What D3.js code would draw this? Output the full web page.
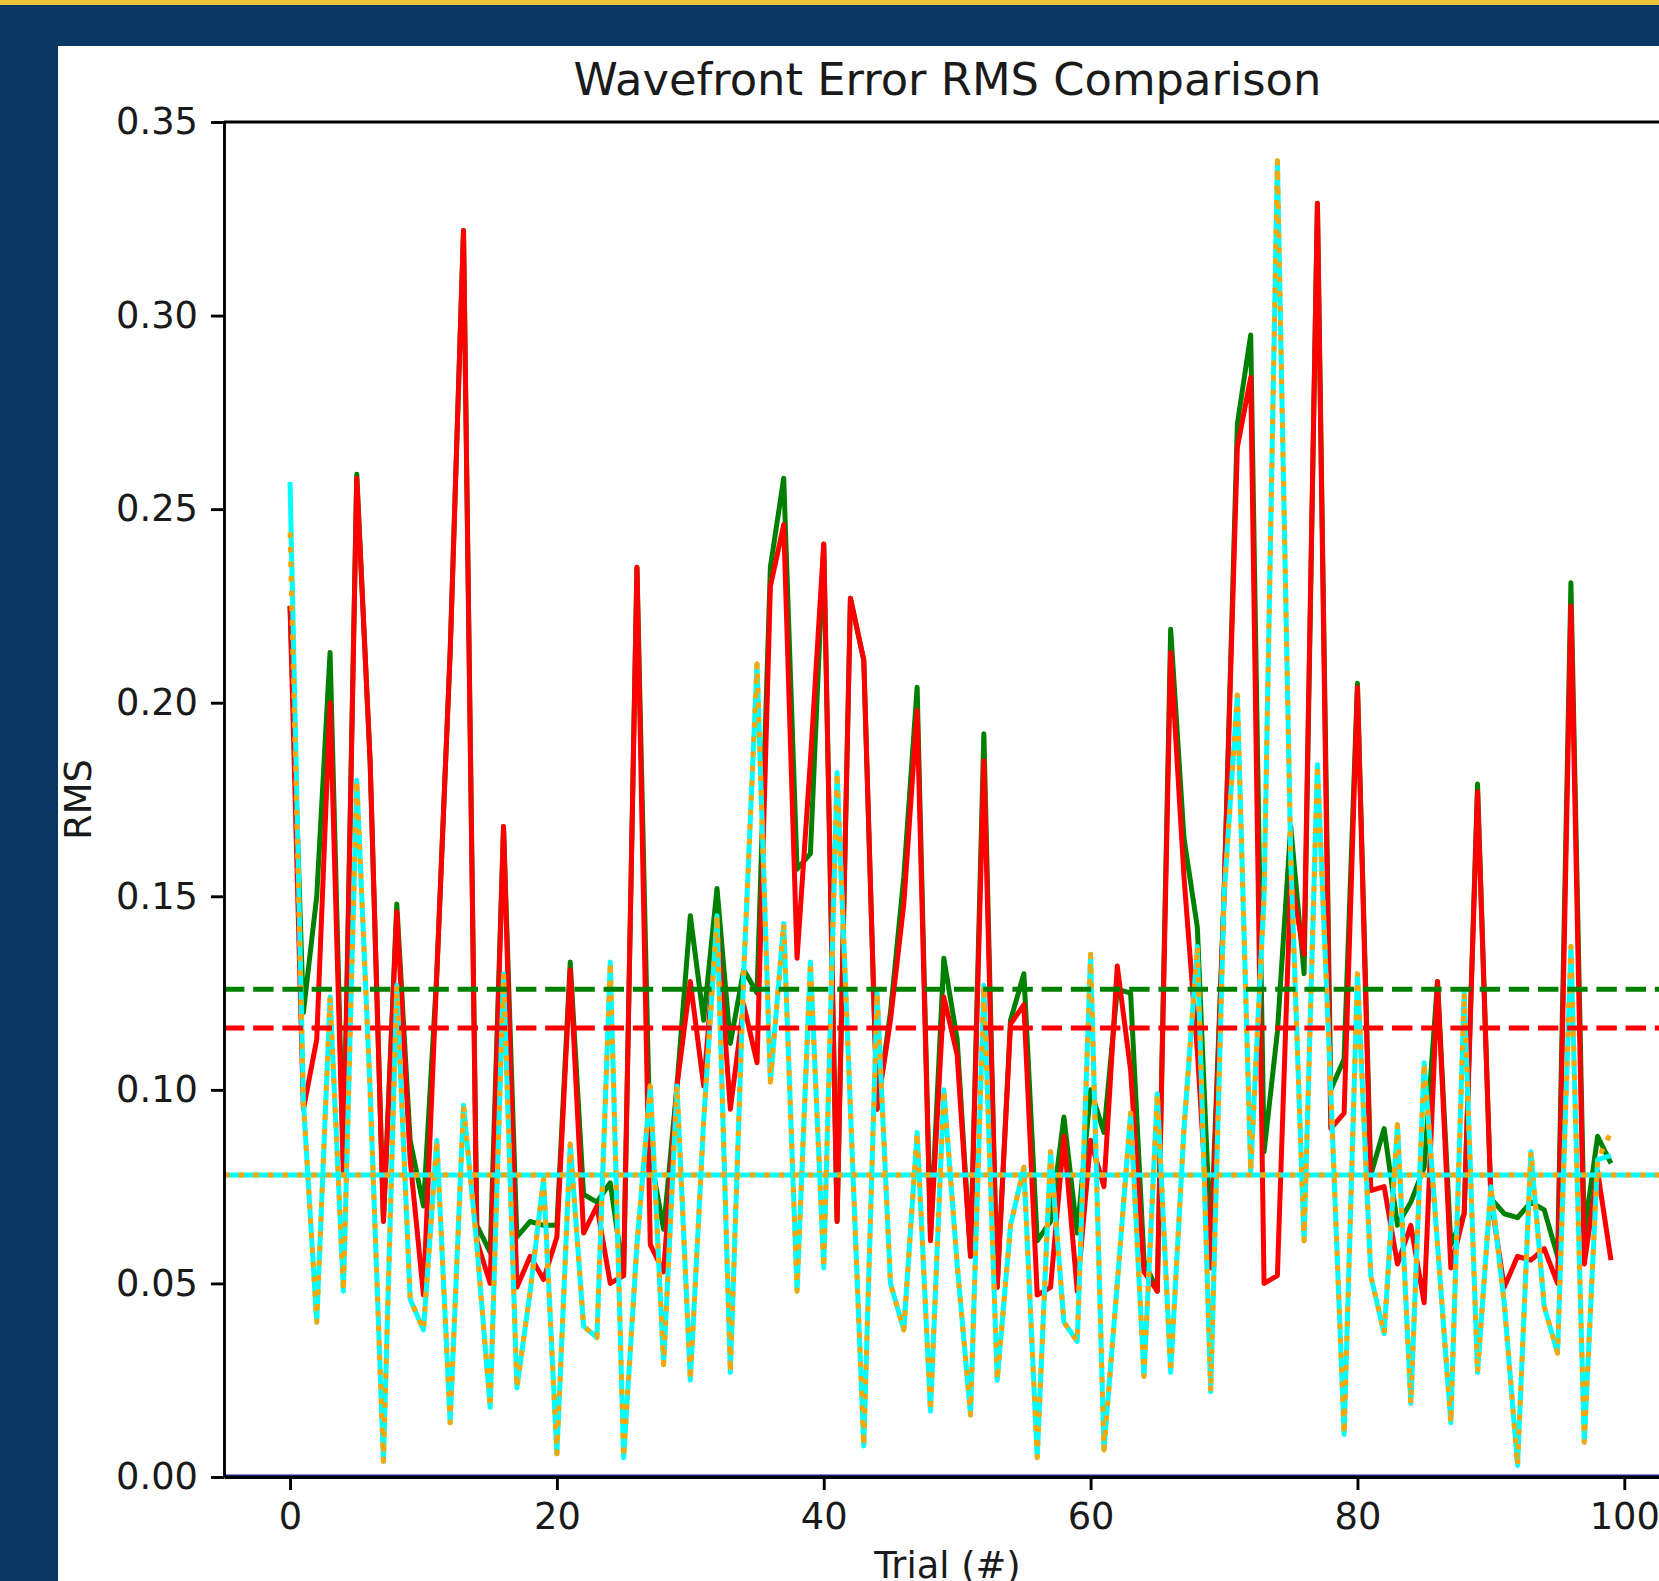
<!DOCTYPE html>
<html>
<head>
<meta charset="utf-8">
<script src="https://cdn.jsdelivr.net/npm/d3@7/dist/d3.min.js"></script>
<style>
html, body { margin: 0; padding: 0; background: #0a3663; }
svg { display: block; }
text { font-family: "DejaVu Sans", sans-serif; }
</style>
</head>
<body>
<svg></svg>
<script>
var WIDTH = 1659;
var HEIGHT = 1581;

// values, one per trial (0..99)
var rmsGreen = [
    0.225, 0.120, 0.150, 0.213, 0.080, 0.259, 0.185, 0.066, 0.148, 0.087,
    0.070, 0.130, 0.213, 0.322, 0.065, 0.058, 0.168, 0.062, 0.066, 0.065,
    0.065, 0.133, 0.073, 0.071, 0.076, 0.052, 0.235, 0.083, 0.064, 0.101,
    0.145, 0.118, 0.152, 0.112, 0.131, 0.125, 0.235, 0.258, 0.157, 0.161,
    0.241, 0.066, 0.227, 0.211, 0.095, 0.120, 0.155, 0.204, 0.062, 0.134,
    0.113, 0.057, 0.192, 0.049, 0.118, 0.130, 0.061, 0.066, 0.093, 0.063,
    0.100, 0.089, 0.126, 0.125, 0.056, 0.048, 0.219, 0.165, 0.142, 0.060,
    0.150, 0.272, 0.295, 0.084, 0.115, 0.168, 0.130, 0.329, 0.100, 0.108,
    0.205, 0.078, 0.090, 0.065, 0.071, 0.080, 0.128, 0.060, 0.068, 0.179,
    0.072, 0.068, 0.067, 0.071, 0.069, 0.057, 0.231, 0.063, 0.088, 0.081
];
var rmsRed = [
    0.225, 0.095, 0.113, 0.200, 0.078, 0.258, 0.185, 0.066, 0.146, 0.082,
    0.047, 0.130, 0.213, 0.322, 0.061, 0.050, 0.168, 0.049, 0.057, 0.051,
    0.062, 0.131, 0.063, 0.070, 0.050, 0.052, 0.235, 0.060, 0.053, 0.101,
    0.128, 0.101, 0.143, 0.095, 0.122, 0.107, 0.230, 0.246, 0.134, 0.185,
    0.241, 0.066, 0.227, 0.211, 0.095, 0.118, 0.148, 0.198, 0.061, 0.124,
    0.109, 0.057, 0.185, 0.049, 0.117, 0.122, 0.047, 0.049, 0.088, 0.048,
    0.087, 0.075, 0.132, 0.105, 0.053, 0.048, 0.213, 0.155, 0.110, 0.054,
    0.150, 0.266, 0.284, 0.050, 0.052, 0.155, 0.135, 0.329, 0.090, 0.094,
    0.204, 0.074, 0.075, 0.055, 0.065, 0.045, 0.128, 0.054, 0.068, 0.177,
    0.072, 0.049, 0.057, 0.056, 0.059, 0.050, 0.225, 0.055, 0.079, 0.056
];
var rmsCyan = [
    0.257, 0.097, 0.040, 0.124, 0.048, 0.180, 0.100, 0.004, 0.127, 0.046,
    0.038, 0.087, 0.014, 0.096, 0.060, 0.018, 0.130, 0.023, 0.048, 0.077,
    0.006, 0.086, 0.039, 0.036, 0.133, 0.005, 0.060, 0.101, 0.029, 0.101,
    0.025, 0.092, 0.145, 0.027, 0.130, 0.210, 0.102, 0.143, 0.048, 0.133,
    0.054, 0.182, 0.095, 0.008, 0.125, 0.050, 0.038, 0.089, 0.017, 0.100,
    0.055, 0.016, 0.127, 0.025, 0.065, 0.080, 0.005, 0.084, 0.040, 0.035,
    0.135, 0.007, 0.050, 0.094, 0.026, 0.099, 0.027, 0.090, 0.137, 0.022,
    0.150, 0.202, 0.079, 0.150, 0.340, 0.160, 0.061, 0.184, 0.100, 0.011,
    0.130, 0.052, 0.037, 0.091, 0.019, 0.107, 0.060, 0.014, 0.125, 0.027,
    0.075, 0.045, 0.003, 0.084, 0.044, 0.032, 0.137, 0.009, 0.082, 0.083
];
var rmsOrange = [
    0.244, 0.097, 0.040, 0.124, 0.048, 0.180, 0.100, 0.004, 0.127, 0.046,
    0.038, 0.087, 0.014, 0.096, 0.060, 0.018, 0.130, 0.023, 0.048, 0.077,
    0.006, 0.086, 0.039, 0.036, 0.133, 0.005, 0.060, 0.101, 0.029, 0.101,
    0.025, 0.092, 0.145, 0.027, 0.130, 0.210, 0.102, 0.143, 0.048, 0.133,
    0.054, 0.182, 0.095, 0.008, 0.125, 0.050, 0.038, 0.089, 0.017, 0.100,
    0.055, 0.016, 0.127, 0.025, 0.065, 0.080, 0.005, 0.084, 0.040, 0.035,
    0.135, 0.007, 0.050, 0.094, 0.026, 0.099, 0.027, 0.090, 0.137, 0.022,
    0.150, 0.202, 0.079, 0.150, 0.340, 0.160, 0.061, 0.184, 0.100, 0.011,
    0.130, 0.052, 0.037, 0.091, 0.019, 0.107, 0.060, 0.014, 0.125, 0.027,
    0.075, 0.045, 0.003, 0.084, 0.044, 0.032, 0.137, 0.009, 0.082, 0.089
];
var rmsZero = [0, 0];

// horizontal reference levels (means) as drawn in the picture
var meanGreen = 0.126;
var meanRed = 0.116;
var meanCyan = 0.078;

var yTicks = [0, 0.05, 0.10, 0.15, 0.20, 0.25, 0.30, 0.35];
var xTicks = [0, 20, 40, 60, 80, 100];

var LEFT = 224, RIGHT = 1677, TOP = 122, BOTTOM = 1477;
var FONT = 36.8;

var svg = d3.select('svg')
    .attr('width', WIDTH)
    .attr('height', HEIGHT);

// page frame: navy background, gold strip, white figure
svg.append('rect').attr('width', WIDTH).attr('height', HEIGHT).attr('fill', '#0a3663');
svg.append('rect').attr('width', WIDTH).attr('height', 5).attr('fill', '#f0c33c');
svg.append('rect').attr('x', 58).attr('y', 46)
    .attr('width', WIDTH - 58).attr('height', HEIGHT - 46)
    .attr('fill', '#ffffff');

var xScale = d3.scaleLinear().domain([-4.95, 103.95]).range([LEFT, RIGHT]);
var yScale = d3.scaleLinear().domain([0, 0.35]).range([BOTTOM, TOP]);

svg.append('clipPath').attr('id', 'plot-clip')
    .append('rect')
    .attr('x', LEFT).attr('y', TOP)
    .attr('width', RIGHT - LEFT).attr('height', BOTTOM - TOP);

var plot = svg.append('g').attr('clip-path', 'url(#plot-clip)');

var line = d3.line()
    .x(function(d, i){ return xScale(i); })
    .y(function(d){ return yScale(d); });

function drawSeries(values, color, dash){
    plot.append('path')
        .datum(values)
        .attr('d', line)
        .attr('fill', 'none')
        .attr('stroke', color)
        .attr('stroke-width', 5)
        .attr('stroke-linejoin', 'round')
        .attr('stroke-dasharray', dash || null);
}

function drawLevel(value, color, dash){
    plot.append('line')
        .attr('x1', xScale.range()[0]).attr('x2', xScale.range()[1])
        .attr('y1', yScale(value)).attr('y2', yScale(value))
        .attr('stroke', color)
        .attr('stroke-width', 5)
        .attr('stroke-dasharray', dash || null);
}

drawSeries(rmsGreen, '#008000');
drawSeries(rmsRed, '#ff0000');
drawSeries(rmsCyan, '#00ffff');
drawSeries(rmsOrange, '#ffa500', '5.5,9.1');

drawLevel(meanGreen, '#008000', '20.4,8.8');
drawLevel(meanRed, '#ff0000', '20.4,8.8');
drawLevel(meanCyan, '#00ffff');
drawLevel(meanCyan, '#ffa500', '5.5,9.1');

// zero baseline series
plot.append('line')
    .attr('x1', xScale.range()[0]).attr('x2', xScale.range()[1])
    .attr('y1', yScale(rmsZero[0])).attr('y2', yScale(rmsZero[1]))
    .attr('stroke', '#1b1b7a')
    .attr('stroke-width', 5);

// axes
var leftAxis = d3.axisLeft(yScale)
    .tickValues(yTicks)
    .tickFormat(d3.format('.2f'))
    .tickSize(13)
    .tickSizeOuter(0)
    .tickPadding(13);
var bottomAxis = d3.axisBottom(xScale)
    .tickValues(xTicks)
    .tickFormat(d3.format('d'))
    .tickSize(13)
    .tickSizeOuter(0)
    .tickPadding(13);

var gLeft = svg.append('g').attr('id', 'left-axis')
    .attr('transform', 'translate(' + LEFT + ',0)')
    .call(leftAxis);
var gBottom = svg.append('g').attr('id', 'bottom-axis')
    .attr('transform', 'translate(0,' + BOTTOM + ')')
    .call(bottomAxis);

[gLeft, gBottom].forEach(function(g){
    g.selectAll('path, line').attr('stroke', '#000').attr('stroke-width', 2.9);
    g.selectAll('text')
        .attr('fill', '#1a1a1a')
        .style('font-size', FONT + 'px')
        .style('font-family', '"DejaVu Sans", sans-serif');
});

// top and right spines
svg.append('line')
    .attr('x1', LEFT).attr('x2', RIGHT)
    .attr('y1', TOP).attr('y2', TOP)
    .attr('stroke', '#000').attr('stroke-width', 2.9);
svg.append('line')
    .attr('x1', RIGHT).attr('x2', RIGHT)
    .attr('y1', TOP).attr('y2', BOTTOM)
    .attr('stroke', '#000').attr('stroke-width', 2.9);

// labels
svg.append('text')
    .attr('x', (LEFT + RIGHT) / 2 - 3)
    .attr('y', 95)
    .attr('text-anchor', 'middle')
    .attr('fill', '#1a1a1a')
    .style('font-size', '44.8px')
    .text('Wavefront Error RMS Comparison');

// the figure is cropped at the bottom, so this label sits on the edge as in the source
svg.append('text')
    .attr('x', (LEFT + RIGHT) / 2 - 3)
    .attr('y', 1578)
    .attr('text-anchor', 'middle')
    .attr('fill', '#1a1a1a')
    .style('font-size', FONT + 'px')
    .text('Trial (#)');

svg.append('text')
    .attr('transform', 'translate(91,' + ((TOP + BOTTOM) / 2) + ') rotate(-90)')
    .attr('text-anchor', 'middle')
    .attr('fill', '#1a1a1a')
    .style('font-size', FONT + 'px')
    .text('RMS');
</script>
</body>
</html>
